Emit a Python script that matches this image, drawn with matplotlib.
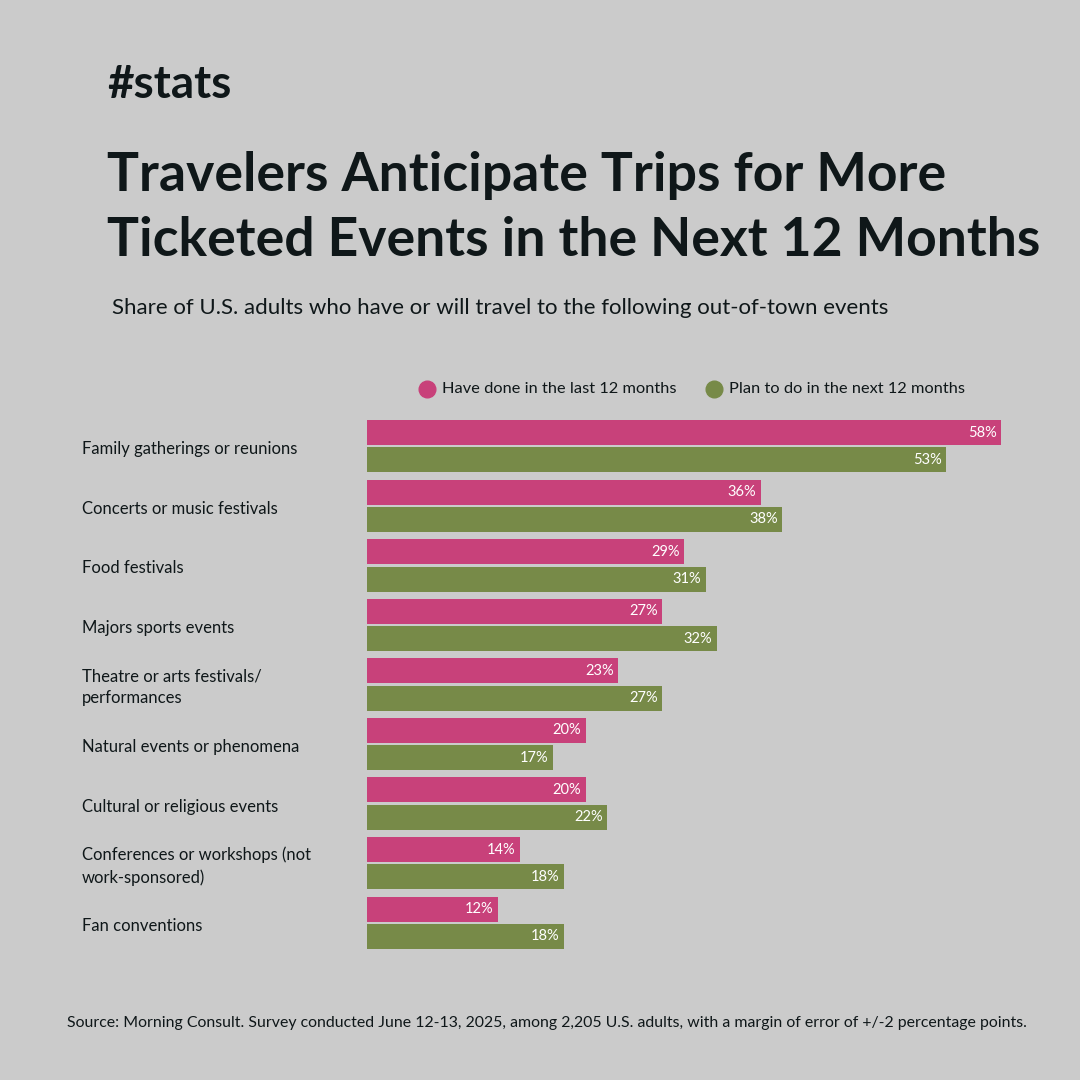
import matplotlib
matplotlib.use("Agg")
import matplotlib.pyplot as plt
from matplotlib.lines import Line2D

# datos
categorias = [
    "Family gatherings or reunions",
    "Concerts or music festivals",
    "Food festivals",
    "Majors sports events",
    "Theatre or arts festivals/\nperformances",
    "Natural events or phenomena",
    "Cultural or religious events",
    "Conferences or workshops (not\nwork-sponsored)",
    "Fan conventions",
]
hecho_12m = [58, 36, 29, 27, 23, 20, 20, 14, 12]
plan_12m = [53, 38, 31, 32, 27, 17, 22, 18, 18]
leyendas = ["Have done in the last 12 months", "Plan to do in the next 12 months"]

fondo = "#cbcbcb"
rosa = "#c8417a"
verde = "#778a48"
oscuro = "#0f1719"

plt.rcParams["font.family"] = ["Lato", "DejaVu Sans"]

fig = plt.figure(figsize=(10.8, 10.8), dpi=100, facecolor=fondo)
ax = fig.add_axes([367 / 1080, 1 - 949 / 1080, 634 / 1080, (949 - 420) / 1080])
ax.set_facecolor(fondo)

off = 0.23
alto = 0.42
for i, cat in enumerate(categorias):
    ax.barh(i - off, hecho_12m[i], height=alto, color=rosa)
    ax.barh(i + off, plan_12m[i], height=alto, color=verde)
    ax.text(hecho_12m[i] - 0.4, i - off, f"{hecho_12m[i]}%", ha="right", va="center",
            color="white", fontsize=10.5)
    ax.text(plan_12m[i] - 0.4, i + off, f"{plan_12m[i]}%", ha="right", va="center",
            color="white", fontsize=10.5)

ax.set_xlim(0, 58)
ax.set_ylim(8 + off + alto / 2, -off - alto / 2)
ax.axis("off")

# etiquetas de categorias
for i, cat in enumerate(categorias):
    ax.annotate(cat, xy=(0, i), xycoords=("axes fraction", "data"),
                xytext=(-(367 - 82), -3), textcoords="offset pixels",
                ha="left", va="center", fontsize=12, color=oscuro, linespacing=1.45)

# textos
fig.text(107 / 1080, 1 - 85 / 1080, "#stats", fontsize=33, fontweight="bold",
         color=oscuro, va="center", ha="left")
fig.text(107 / 1080, 1 - 176 / 1080, "Travelers Anticipate Trips for More",
         fontsize=38.5, fontweight="bold", color=oscuro, va="center", ha="left")
fig.text(107 / 1080, 1 - 240 / 1080, "Ticketed Events in the Next 12 Months",
         fontsize=38.5, fontweight="bold", color=oscuro, va="center", ha="left")
fig.text(112 / 1080, 1 - 308 / 1080,
         "Share of U.S. adults who have or will travel to the following out-of-town events",
         fontsize=16, color=oscuro, va="center", ha="left")

# leyenda
fig.add_artist(Line2D([427 / 1080], [1 - 389 / 1080], marker="o", markersize=12,
                      color=rosa, linestyle="none"))
fig.text(442 / 1080, 1 - 389 / 1080, leyendas[0], fontsize=11.8, color=oscuro,
         va="center", ha="left")
fig.add_artist(Line2D([714 / 1080], [1 - 389 / 1080], marker="o", markersize=12,
                      color=verde, linestyle="none"))
fig.text(729 / 1080, 1 - 389 / 1080, leyendas[1], fontsize=11.8, color=oscuro,
         va="center", ha="left")

fig.text(67 / 1080, 1 - 1023 / 1080,
         "Source: Morning Consult. Survey conducted June 12-13, 2025, among 2,205 U.S. adults, "
         "with a margin of error of +/-2 percentage points.",
         fontsize=11.4, color=oscuro, va="center", ha="left")

fig.savefig("out.png", dpi=100, facecolor=fondo)
